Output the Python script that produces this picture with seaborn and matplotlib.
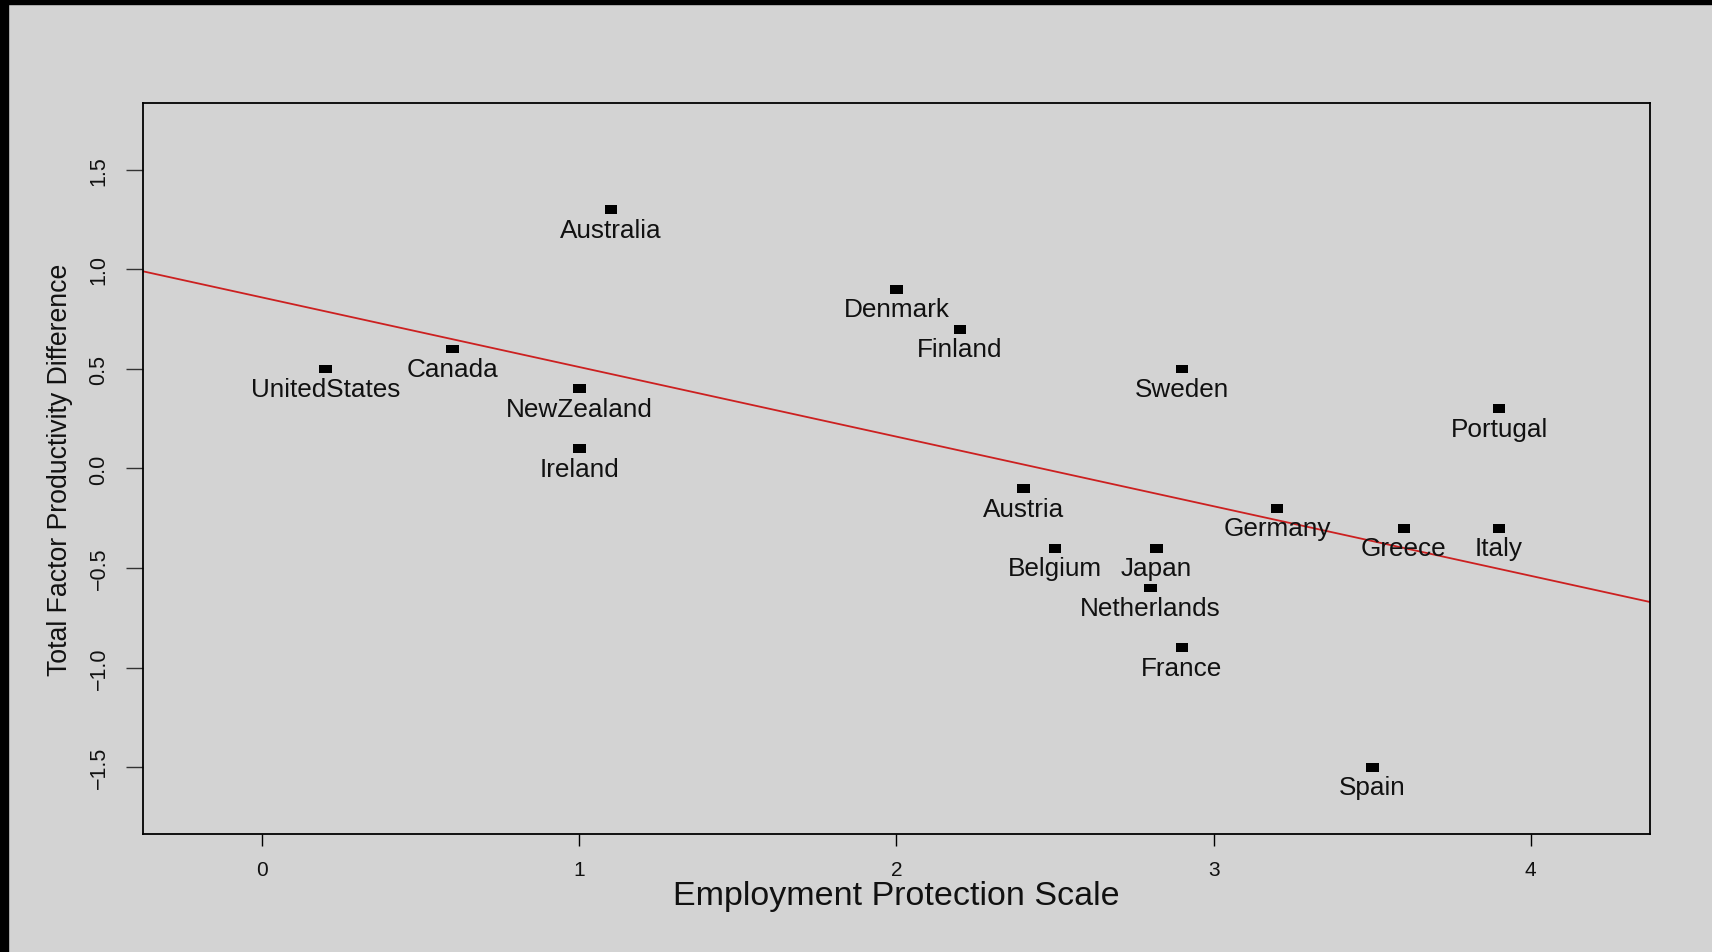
import numpy as np
import pandas as pd
import matplotlib
matplotlib.use("Agg")
import matplotlib.pyplot as plt
from matplotlib.patches import Rectangle
import seaborn as sns

# OECD countries: employment protection vs. total factor productivity gap
countries = ["UnitedStates", "Canada", "Australia", "NewZealand", "Ireland",
             "Denmark", "Finland", "Sweden", "Portugal", "Austria", "Germany",
             "Greece", "Italy", "Belgium", "Japan", "Netherlands", "France", "Spain"]
protection = [0.2, 0.6, 1.1, 1.0, 1.0, 2.0, 2.2, 2.9, 3.9, 2.4, 3.2,
              3.6, 3.9, 2.5, 2.82, 2.8, 2.9, 3.5]
tfp_diff = [0.5, 0.6, 1.3, 0.4, 0.1, 0.9, 0.7, 0.5, 0.3, -0.1, -0.2,
            -0.3, -0.3, -0.4, -0.4, -0.6, -0.9, -1.5]

x_ticks = [0, 1, 2, 3, 4]
y_ticks = [-1.5, -1.0, -0.5, 0.0, 0.5, 1.0, 1.5]
y_tick_labels = ["\u22121.5", "\u22121.0", "\u22120.5", "0.0", "0.5", "1.0", "1.5"]

df = pd.DataFrame({"country": countries, "ep": protection, "tfp": tfp_diff})

sns.set_theme(style="white")
plt.rcParams["font.family"] = ["Liberation Sans", "DejaVu Sans"]
bg = "#d3d3d3"

fig = plt.figure(figsize=(17.12, 9.53), dpi=100, facecolor=bg)
ax = fig.add_axes([0.0835, 0.1238, 0.8803, 0.7671])
ax.set_facecolor(bg)

# axis ranges: (-0.2, 4.2) and (-1.7, 1.7) padded by 4%
xlim = (-0.2 - 0.176, 4.2 + 0.176)
ylim = (-1.7 - 0.136, 1.7 + 0.136)
ax.set_xlim(xlim)
ax.set_ylim(ylim)

# least squares fit line across the full panel
sns.regplot(data=df, x="ep", y="tfp", ax=ax, scatter=False, ci=None,
            truncate=False, line_kws=dict(color="#cc2020", lw=1.3))

# filled rectangular markers
rect = [(-1.45, -1), (1.45, -1), (1.45, 1), (-1.45, 1), (-1.45, -1)]
sns.scatterplot(data=df, x="ep", y="tfp", ax=ax, marker=rect, s=85,
                color="black", edgecolor="none", linewidth=0, zorder=3)

for c, xv, yv in zip(countries, protection, tfp_diff):
    ax.annotate(c, (xv, yv), xytext=(0, -14.5), textcoords="offset points",
                ha="center", va="center", fontsize=18.8, color="#111111")

ax.set_xlim(xlim)
ax.set_ylim(ylim)

ax.set_xticks(x_ticks)
ax.set_xticklabels([str(t) for t in x_ticks])
ax.set_yticks(y_ticks)
ax.set_yticklabels(y_tick_labels)

ax.tick_params(axis="x", direction="out", length=8.5, width=1, color="black",
               labelsize=15, pad=10, labelcolor="#111111", bottom=True)
ax.tick_params(axis="y", direction="out", length=12, width=1, color="#333333",
               labelsize=15.5, pad=12, labelcolor="#111111", left=True,
               labelrotation=90)
for lab in ax.get_yticklabels():
    lab.set_va("center")

for s in ax.spines.values():
    s.set_visible(True)
    s.set_color("black")
    s.set_linewidth(1.3)

ax.set_xlabel("Employment Protection Scale", fontsize=24.5, color="#111111")
ax.set_ylabel("Total Factor Productivity Difference", fontsize=19.2, color="#111111")
ax.xaxis.set_label_coords(0.5, -0.0845)
ax.xaxis.label.set_va("center")
ax.yaxis.set_label_coords(-0.0551, 0.5)
ax.yaxis.label.set_va("center")

# dark frame strips along the top and left edges
fig.add_artist(Rectangle((0, 1 - 5 / 953), 1, 5 / 953, transform=fig.transFigure,
                         color="black", zorder=10))
fig.add_artist(Rectangle((0, 0), 8 / 1712, 1, transform=fig.transFigure,
                         color="black", zorder=10))

fig.savefig("out.png", dpi=100, facecolor=bg)
